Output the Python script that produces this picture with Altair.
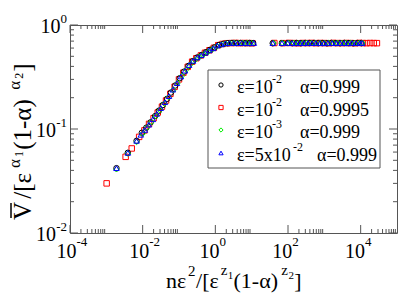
import altair as alt
import pandas as pd

SERIF = "Liberation Serif"
FRAME = "#555555"

# ---------------- data ----------------
circle_x = [0.0019, 0.0039, 0.0068, 0.0095, 0.0126, 0.0166, 0.022, 0.028, 0.036, 0.047,
            0.060, 0.079, 0.105, 0.138, 0.182, 0.24, 0.32, 0.42, 0.55, 0.72,
            0.95, 1.26, 1.66, 2.19, 2.88, 3.80, 5.01, 6.61, 8.71, 11.0,
            38, 68, 100, 132, 174, 229, 302, 398, 525, 692,
            912, 1200, 1580, 2090, 2750, 3630, 4790, 6310, 8320, 10500]
circle_y = [0.042, 0.059, 0.077, 0.092, 0.103, 0.116, 0.133, 0.150, 0.170, 0.195,
            0.224, 0.262, 0.308, 0.356, 0.404, 0.449, 0.488, 0.514, 0.547, 0.578,
            0.610, 0.643, 0.660, 0.668, 0.672, 0.670, 0.672, 0.668, 0.671, 0.670,
            0.668, 0.670, 0.671, 0.669, 0.672, 0.668, 0.671, 0.670, 0.672, 0.669,
            0.671, 0.668, 0.672, 0.670, 0.669, 0.672, 0.670, 0.668, 0.671, 0.670]

square_x = [0.00102, 0.0034, 0.0050, 0.0080, 0.0112, 0.0150, 0.020, 0.026, 0.034, 0.044,
            0.058, 0.076, 0.100, 0.132, 0.174, 0.23, 0.30, 0.40, 0.52, 0.69,
            0.91, 1.20, 1.58, 2.09, 2.75, 3.63, 4.79, 6.31, 8.32, 10.5,
            42, 72, 105, 145, 191, 251, 331, 437, 575, 759,
            1000, 1320, 1740, 2290, 3020, 3980, 5250, 6920, 9120, 11500,
            14500, 18200, 22900, 28000]
square_y = [0.030, 0.054, 0.065, 0.084, 0.097, 0.112, 0.127, 0.144, 0.164, 0.188,
            0.218, 0.255, 0.300, 0.348, 0.396, 0.444, 0.479, 0.510, 0.541, 0.572,
            0.603, 0.640, 0.657, 0.668, 0.670, 0.672, 0.669, 0.671, 0.670, 0.668,
            0.671, 0.669, 0.672, 0.670, 0.668, 0.671, 0.670, 0.672, 0.669, 0.671,
            0.670, 0.668, 0.672, 0.670, 0.669, 0.671, 0.670, 0.668, 0.672, 0.670,
            0.669, 0.671, 0.670, 0.669]

diamond_x = [0.0019, 0.0039, 0.0068, 0.0100, 0.0132, 0.0174, 0.0229, 0.030, 0.040, 0.052,
             0.069, 0.091, 0.12, 0.158, 0.209, 0.275, 0.363, 0.479, 0.63, 0.83,
             1.10, 1.45, 1.91, 2.51, 3.31, 4.37, 5.75, 7.59, 10.0,
             40, 69, 105, 145, 191, 251, 331, 437, 575, 759,
             1000, 1320, 1740, 2290, 3020, 3980, 5250, 6920, 9120, 11200]
diamond_y = [0.041, 0.058, 0.075, 0.090, 0.103, 0.117, 0.133, 0.152, 0.175, 0.202,
             0.236, 0.277, 0.324, 0.372, 0.419, 0.458, 0.494, 0.522, 0.552, 0.582,
             0.622, 0.648, 0.664, 0.668, 0.671, 0.669, 0.672, 0.670, 0.668,
             0.670, 0.672, 0.669, 0.671, 0.668, 0.670, 0.672, 0.669, 0.671, 0.670,
             0.668, 0.671, 0.670, 0.672, 0.669, 0.670, 0.671, 0.668, 0.670, 0.672]

triangle_x = [0.0019, 0.0039, 0.0068, 0.0089, 0.0115, 0.0148, 0.0191, 0.0245, 0.0316, 0.041,
              0.053, 0.068, 0.088, 0.113, 0.146, 0.19, 0.245, 0.32, 0.41, 0.53,
              0.68, 0.88, 1.13, 1.46, 1.9, 2.45, 3.2, 4.1, 5.3, 6.8,
              8.8, 11.5,
              38, 68, 98, 128, 166, 214, 276, 355, 457, 589,
              759, 977, 1260, 1620, 2090, 2690, 3470, 4470, 5750, 7410,
              9550, 11000]
triangle_y = [0.042, 0.059, 0.077, 0.088, 0.098, 0.110, 0.124, 0.140, 0.159, 0.181,
              0.207, 0.239, 0.276, 0.320, 0.364, 0.412, 0.453, 0.488, 0.512, 0.541,
              0.570, 0.597, 0.635, 0.652, 0.667, 0.670, 0.672, 0.669, 0.671, 0.670,
              0.668, 0.671,
              0.671, 0.669, 0.672, 0.670, 0.668, 0.671, 0.670, 0.672, 0.669, 0.671,
              0.670, 0.668, 0.672, 0.670, 0.669, 0.671, 0.670, 0.668, 0.672, 0.670,
              0.669, 0.671]

legend_eps = ["ε=10", "ε=10", "ε=10", "ε=5x10"]
legend_eps_exp = ["-2", "-2", "-3", "-2"]
legend_alpha = ["α=0.999", "α=0.9995", "α=0.999", "α=0.999"]

x_major = [1e-4, 1e-2, 1e0, 1e2, 1e4]
x_major_exp = ["-4", "-2", "0", "2", "4"]
x_minor = [m * 10.0 ** k for k in (-4, -2, 0, 2, 4) for m in range(2, 10)]
y_major = [1e-2, 1e-1, 1e0]
y_major_exp = ["-2", "-1", "0"]
y_minor = [m * 10.0 ** k for k in (-2, -1) for m in range(2, 10)]

# ---------------- layout ----------------
W, H = 327, 208
L, T = 70, 25  # page position of plot origin


def px(v):
    return v - L


def py(v):
    return v - T


xs = alt.Scale(type="log", domain=[1e-4, 1e5], nice=False)
ys = alt.Scale(type="log", domain=[1e-2, 1], nice=False)
one = pd.DataFrame({"a": [0]})

layers = []


def txt(t, x, y, size, align="left", angle=0, font=SERIF):
    props = dict(font=font, fontSize=size, align=align, baseline="alphabetic", color="black")
    if angle:
        props["angle"] = angle
    return alt.Chart(one).mark_text(**props).encode(
        x=alt.value(x), y=alt.value(y), text=alt.value(t))


# ticks (inward, on all four sides)
for vals, ln in ((x_major, 8), (x_minor, 4)):
    d = pd.DataFrame({"v": vals})
    for y0, y1 in ((H, H - ln), (0, ln)):
        layers.append(alt.Chart(d).mark_rule(color=FRAME, strokeWidth=1).encode(
            x=alt.X("v:Q", scale=xs, axis=None), y=alt.value(y0), y2=alt.value(y1)))
for vals, ln in ((y_major, 8), (y_minor, 4)):
    d = pd.DataFrame({"v": vals})
    for x0, x1 in ((0, ln), (W, W - ln)):
        layers.append(alt.Chart(d).mark_rule(color=FRAME, strokeWidth=1).encode(
            y=alt.Y("v:Q", scale=ys, axis=None), x=alt.value(x0), x2=alt.value(x1)))


def expw(s, unit=6.5):
    return sum(4.5 if c == "-" else unit for c in s)


# x tick labels
for v, e in zip(x_major, x_major_exp):
    d = pd.DataFrame({"v": [v]})
    off = expw(e) / 2 + 1
    layers.append(alt.Chart(d).mark_text(font=SERIF, fontSize=20, align="right",
                                          baseline="alphabetic", dx=off, color="black").encode(
        x=alt.X("v:Q", scale=xs, axis=None), y=alt.value(H + 25), text=alt.value("10")))
    layers.append(alt.Chart(d).mark_text(font=SERIF, fontSize=13, align="left",
                                          baseline="alphabetic", dx=off, color="black").encode(
        x=alt.X("v:Q", scale=xs, axis=None), y=alt.value(H + 13), text=alt.value(e)))

# y tick labels
for v, e in zip(y_major, y_major_exp):
    d = pd.DataFrame({"v": [v]})
    layers.append(alt.Chart(d).mark_text(font=SERIF, fontSize=20, align="right",
                                          baseline="alphabetic", dy=8, color="black").encode(
        y=alt.Y("v:Q", scale=ys, axis=None), x=alt.value(-3 - expw(e)), text=alt.value("10")))
    layers.append(alt.Chart(d).mark_text(font=SERIF, fontSize=13, align="right",
                                          baseline="alphabetic", dy=-2, color="black").encode(
        y=alt.Y("v:Q", scale=ys, axis=None), x=alt.value(-3), text=alt.value(e)))

# data series
series = [
    (square_x, square_y, "square", "#ff0000"),
    (circle_x, circle_y, "circle", "#000000"),
    (diamond_x, diamond_y, "diamond", "#00ee00"),
    (triangle_x, triangle_y, "triangle-up", "#0000ff"),
]
for xv, yv, shp, col in series:
    d = pd.DataFrame({"x": xv, "y": yv})
    layers.append(alt.Chart(d).mark_point(shape=shp, filled=False, size=30, strokeWidth=1,
                                           color=col, opacity=1).encode(
        x=alt.X("x:Q", scale=xs, axis=None), y=alt.Y("y:Q", scale=ys, axis=None)))

# legend box
layers.append(alt.Chart(one).mark_rect(fill="white", stroke=FRAME, strokeWidth=1).encode(
    x=alt.value(px(208)), x2=alt.value(px(380)), y=alt.value(py(70)), y2=alt.value(py(168))))
row_marker_y = [85, 107.5, 130, 153]
row_base_y = [93, 115.5, 138, 161]
eps_exp_x = [272, 272, 272, 293]
alpha_x = [300, 300, 300, 317]
for i, (shp, col) in enumerate([(s[2], s[3]) for s in [series[1], series[0], series[2], series[3]]]):
    layers.append(alt.Chart(one).mark_point(shape=shp, filled=False, size=18, strokeWidth=1,
                                             color=col, opacity=1).encode(
        x=alt.value(px(221)), y=alt.value(py(row_marker_y[i]))))
    layers.append(txt(legend_eps[i], px(237), py(row_base_y[i]), 18))
    layers.append(txt(legend_eps_exp[i], px(eps_exp_x[i]), py(row_base_y[i] - 10), 12))
    layers.append(txt(legend_alpha[i], px(alpha_x[i]), py(row_base_y[i]), 18))

# ---- axis titles built from pieces (superscripts / sub-superscripts) ----
EM = {"n": .5, "ε": .44, "2": .5, "/": .28, "[": .33, "z": .44, "1": .5, "(": .33,
      "-": .33, "α": .55, ")": .33, "]": .33, "V": .72}


def place(pieces, start, end):
    widths = [sum(EM.get(c, .5) for c in t) * fs for t, fs, _ in pieces]
    k = (end - start) / sum(widths)
    pos, cur = [], start
    for w in widths:
        pos.append(cur)
        cur += w * k
    return pos


# x-axis title: n ε^2 / [ ε^{z1} (1-α)^{z2} ]
x_pieces = [("nε", 22, 0), ("2", 15, 12), ("/[ε", 22, 0), ("z", 15, 13), ("1", 11, 9),
            ("(1-α)", 22, 0), ("z", 15, 13), ("2", 11, 9), ("]", 22, 0)]
for (t, fs, r), xx in zip(x_pieces, place(x_pieces, 166, 302)):
    layers.append(txt(t, px(xx), py(288 - r), fs))

# y-axis title: V-bar / [ ε^{α1} (1-α)^{α2} ]  (rotated, reading upward)
y_pieces = [("V", 25, 0), ("/[ε", 25, 0), ("α", 17, 11), ("1", 12, 8),
            ("(1-α)", 25, 0), ("α", 17, 11), ("2", 12, 8), ("]", 25, 0)]
for (t, fs, r), yy in zip(y_pieces, place(y_pieces, 220, 62)):
    layers.append(txt(t, px(31 - r), py(yy), fs, angle=270))
# bar over V
layers.append(alt.Chart(one).mark_rule(color="black", strokeWidth=1.5).encode(
    x=alt.value(px(11)), y=alt.value(py(203)), y2=alt.value(py(218))))

chart = alt.layer(*layers).properties(
    width=W, height=H,
    autosize=alt.AutoSizeParams(type="none"),
    padding={"left": 62, "top": 17, "right": 10, "bottom": 64},
).configure_view(stroke=FRAME, strokeWidth=1).configure_text(font=SERIF)

chart.save("out.html", embed_options={"renderer": "svg", "actions": False})
